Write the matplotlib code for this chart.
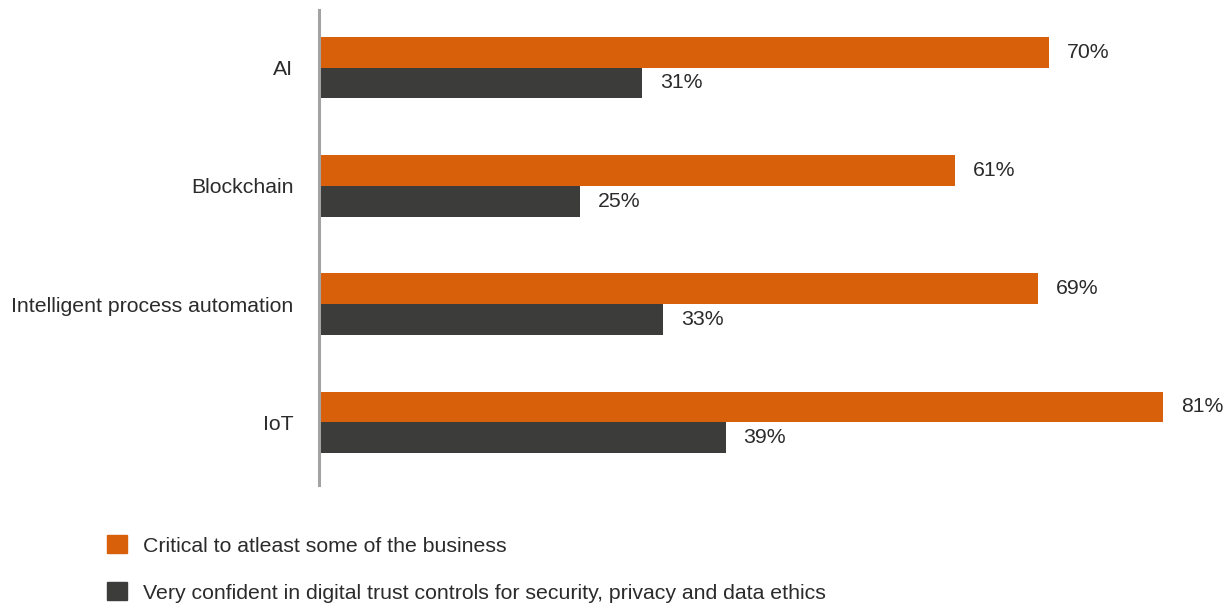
import matplotlib
matplotlib.use("Agg")
import matplotlib.pyplot as plt
from matplotlib.patches import Patch

categories = ["AI", "Blockchain", "Intelligent process automation", "IoT"]
critical = [70, 61, 69, 81]
confident = [31, 25, 33, 39]
series_names = ["Critical to atleast some of the business",
                "Very confident in digital trust controls for security, privacy and data ethics"]
colors = ["#D9600B", "#3C3C3B"]
text_color = "#2B2B2B"

plt.rcParams['font.family'] = ['Liberation Sans', 'DejaVu Sans']
FS = 15.3

W, H = 1228, 607
fig = plt.figure(figsize=(W / 100, H / 100), dpi=100)
ax = fig.add_axes([319 / W, 1 - 485 / H, (W - 319) / W, 475 / H])

bh = 0.26
ys = list(range(len(categories)))
ax.barh([y - bh / 2 for y in ys], critical, height=bh, color=colors[0])
ax.barh([y + bh / 2 for y in ys], confident, height=bh, color=colors[1])

for y, v in zip(ys, critical):
    ax.annotate(f"{v}%", (v, y - bh / 2), xytext=(18, 0), textcoords="offset pixels",
                va="center", ha="left", fontsize=FS, color=text_color)
for y, v in zip(ys, confident):
    ax.annotate(f"{v}%", (v, y + bh / 2), xytext=(18, 0), textcoords="offset pixels",
                va="center", ha="left", fontsize=FS, color=text_color)

ax.set_xlim(0, 87.2)
ax.set_ylim(3.53, -0.487)
ax.set_yticks(ys)
ax.set_yticklabels(categories, fontsize=FS, color=text_color)
ax.tick_params(axis='y', length=0, pad=18.5)
ax.set_xticks([])
for s in ["top", "right", "bottom"]:
    ax.spines[s].set_visible(False)
ax.spines["left"].set_color("#A3A3A3")
ax.spines["left"].set_linewidth(2.2)

handles = [Patch(color=c) for c in colors]
fig.legend(handles, series_names, loc="upper left",
           bbox_to_anchor=(88 / W, 1 - 516 / H), frameon=False,
           fontsize=FS, handlelength=0.95, handleheight=0.95,
           handletextpad=0.75, labelspacing=1.25, labelcolor=text_color)

fig.savefig("out.png", dpi=100)
